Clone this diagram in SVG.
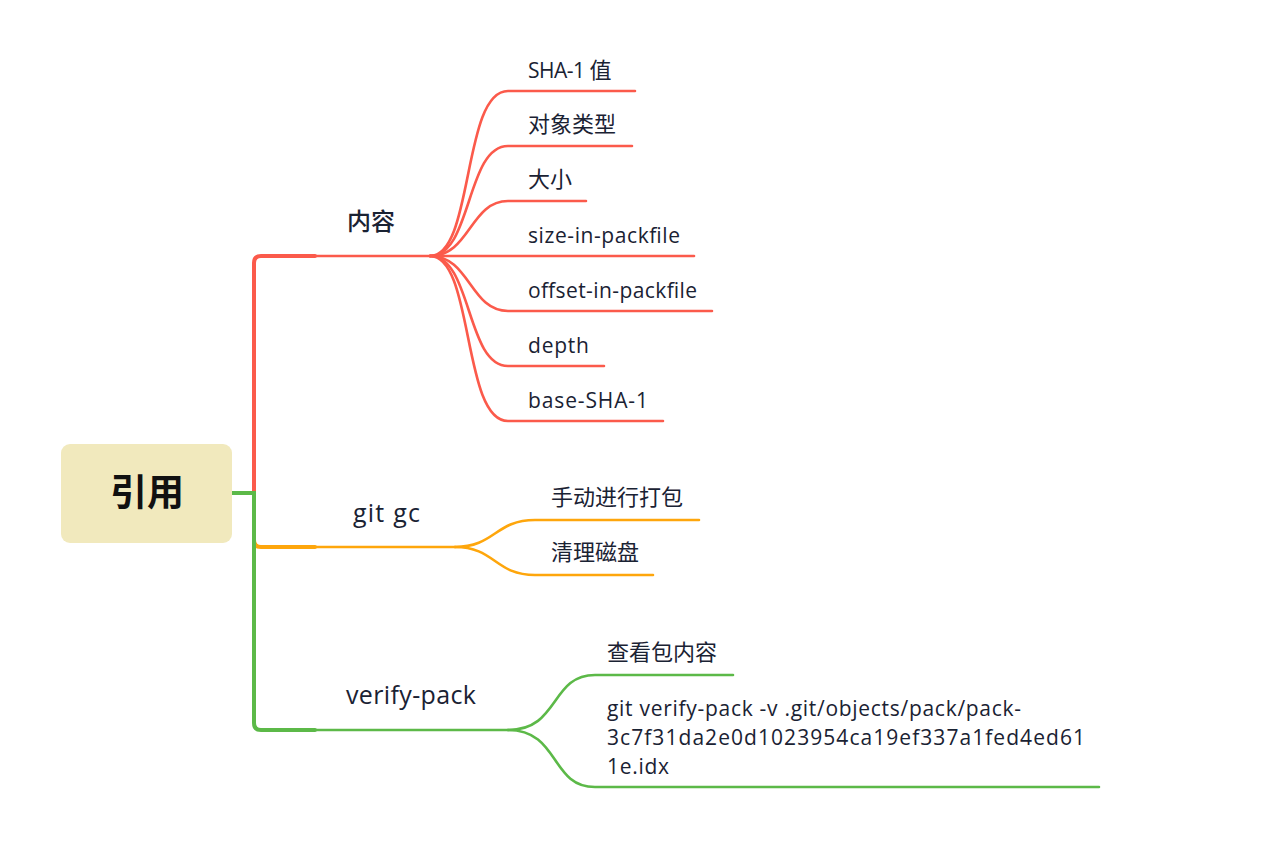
<svg xmlns="http://www.w3.org/2000/svg" width="1262" height="842" viewBox="0 0 1262 842">
<style>
  text { font-family: "Open Sans", "Noto Sans CJK SC", sans-serif; fill: #1a2233; }
  .t { font-size: 21px; }
  .cj { font-family: "Noto Sans CJK SC", sans-serif; font-size: 22px; }
  .m { font-size: 25px; font-weight: 500; }
  .mc { font-family: "Noto Sans CJK SC", sans-serif; font-size: 24px; font-weight: 500; }
  .root { font-family: "Noto Sans CJK SC", sans-serif; font-size: 37px; font-weight: bold; fill: #111; }
  .c { fill: none; stroke-linecap: round; }
  .red { stroke: #fb5a4b; }
  .org { stroke: #fea60c; }
  .grn { stroke: #5cb948; }
  .trunk { stroke-width: 4; }
  .br { stroke-width: 2.6; }
</style>
<rect width="1262" height="842" fill="#ffffff"/>
<g id="connectors">
  <path class="c red trunk" d="M254,493 V263 Q254,256 261,256 H315"/>
  <path class="c org trunk" d="M254,493 V540 Q254,547 261,547 H315"/>
  <path class="c grn trunk" d="M232,493 H254 V723 Q254,730 261,730 H315"/>
  <path class="c red br" d="M315,256 H430"/>
  <path class="c org br" d="M315,547 H455"/>
  <path class="c grn br" d="M315,730 H508"/>
  <path class="c red br" d="M430,256 C474,256 462,91 508,91 H635"/>
  <path class="c red br" d="M430,256 C472,256 466,146 508,146 H632"/>
  <path class="c red br" d="M430,256 C470,256 470,201 508,201 H586"/>
  <path class="c red br" d="M430,256 H694"/>
  <path class="c red br" d="M430,256 C470,256 470,311 508,311 H712"/>
  <path class="c red br" d="M430,256 C472,256 466,366 508,366 H604"/>
  <path class="c red br" d="M430,256 C474,256 462,421 508,421 H663"/>
  <path class="c org br" d="M455,547 C495,547 495,520 535,520 H699"/>
  <path class="c org br" d="M455,547 C495,547 495,575 535,575 H653"/>
  <path class="c grn br" d="M508,730 C560,730 550,675 595,675 H733"/>
  <path class="c grn br" d="M508,730 C560,730 550,787 595,787 H1099"/>
</g>
<g id="root">
  <rect x="61" y="444" width="171" height="99" rx="9" fill="#f1e9bd"/>
  <text class="root" x="147" y="506" text-anchor="middle">引用</text>
</g>
<g id="n-content"><text class="mc" x="347" y="230">内容</text></g>
<g id="n-sha1"><text class="t" x="528" y="78"><tspan textLength="62" lengthAdjust="spacing">SHA-1 </tspan><tspan class="cj">值</tspan></text></g>
<g id="n-type"><text class="cj" x="528" y="132">对象类型</text></g>
<g id="n-size"><text class="cj" x="528" y="187">大小</text></g>
<g id="n-sizepack"><text class="t" x="528" y="243" textLength="152" lengthAdjust="spacing">size-in-packfile</text></g>
<g id="n-offset"><text class="t" x="528" y="298" textLength="169" lengthAdjust="spacing">offset-in-packfile</text></g>
<g id="n-depth"><text class="t" x="528" y="353" textLength="61" lengthAdjust="spacing">depth</text></g>
<g id="n-base"><text class="t" x="528" y="408" textLength="120" lengthAdjust="spacing">base-SHA-1</text></g>
<g id="n-gitgc"><text class="m" x="353" y="522" textLength="67" lengthAdjust="spacing">git gc</text></g>
<g id="n-manual"><text class="cj" x="551" y="505">手动进行打包</text></g>
<g id="n-clean"><text class="cj" x="551" y="560">清理磁盘</text></g>
<g id="n-verify"><text class="m" x="346" y="704" textLength="130" lengthAdjust="spacing">verify-pack</text></g>
<g id="n-view"><text class="cj" x="607" y="660">查看包内容</text></g>
<g id="n-cmd">
  <text class="t" x="607" y="716" textLength="414" lengthAdjust="spacing">git verify-pack -v .git/objects/pack/pack-</text>
  <text class="t" x="607" y="745" textLength="478" lengthAdjust="spacing">3c7f31da2e0d1023954ca19ef337a1fed4ed61</text>
  <text class="t" x="607" y="774" textLength="62" lengthAdjust="spacing">1e.idx</text>
</g>
</svg>
